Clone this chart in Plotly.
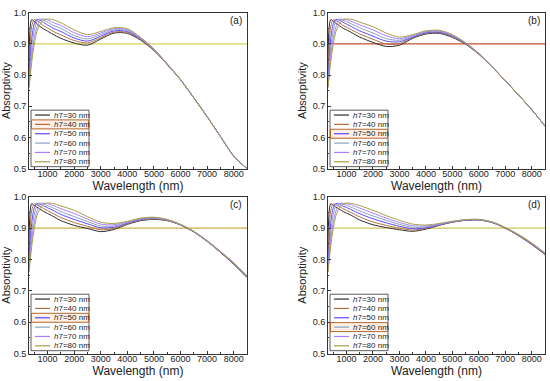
import plotly.graph_objects as go

WAVELENGTH = [300, 400, 500, 600, 700, 800, 900, 1000, 1200, 1500, 2000, 2500,
              3000, 3500, 4000, 4500, 5000, 5500, 6000, 6500, 7000, 7500, 8000, 8500]

LABELS = ["<i>h</i>7=30 nm", "<i>h</i>7=40 nm", "<i>h</i>7=50 nm",
          "<i>h</i>7=60 nm", "<i>h</i>7=70 nm", "<i>h</i>7=80 nm"]
COLORS = ["#2b2b2b", "#b2703f", "#5b48ff", "#87a0c8", "#b07cff", "#a3a044"]

A30 = [0.79, 0.978, 0.972, 0.964, 0.957, 0.951, 0.946, 0.941, 0.931, 0.918, 0.903, 0.896, 0.916, 0.935, 0.934, 0.912, 0.879, 0.834, 0.785, 0.727, 0.667, 0.603, 0.540, 0.500]
A40 = [0.775, 0.955, 0.978, 0.975, 0.969, 0.962, 0.956, 0.951, 0.941, 0.929, 0.911, 0.903, 0.920, 0.938, 0.937, 0.914, 0.880, 0.834, 0.785, 0.727, 0.667, 0.603, 0.540, 0.500]
A50 = [0.77, 0.915, 0.965, 0.979, 0.977, 0.972, 0.966, 0.961, 0.951, 0.940, 0.919, 0.909, 0.925, 0.942, 0.940, 0.916, 0.881, 0.835, 0.785, 0.727, 0.667, 0.603, 0.540, 0.500]
A60 = [0.765, 0.885, 0.945, 0.972, 0.980, 0.978, 0.974, 0.970, 0.960, 0.950, 0.927, 0.916, 0.930, 0.945, 0.943, 0.917, 0.882, 0.835, 0.785, 0.727, 0.667, 0.603, 0.540, 0.500]
A70 = [0.76, 0.86, 0.92, 0.955, 0.973, 0.980, 0.979, 0.977, 0.969, 0.959, 0.936, 0.923, 0.935, 0.949, 0.946, 0.919, 0.883, 0.836, 0.786, 0.727, 0.667, 0.603, 0.540, 0.500]
A80 = [0.76, 0.84, 0.90, 0.94, 0.96, 0.973, 0.979, 0.980, 0.978, 0.968, 0.945, 0.930, 0.940, 0.952, 0.949, 0.921, 0.884, 0.836, 0.786, 0.727, 0.667, 0.603, 0.540, 0.500]

B30 = [0.79, 0.978, 0.973, 0.966, 0.960, 0.954, 0.949, 0.945, 0.936, 0.922, 0.905, 0.892, 0.896, 0.918, 0.932, 0.934, 0.921, 0.899, 0.867, 0.826, 0.782, 0.736, 0.689, 0.636]
B40 = [0.775, 0.955, 0.978, 0.975, 0.970, 0.964, 0.958, 0.954, 0.945, 0.932, 0.915, 0.900, 0.901, 0.920, 0.934, 0.936, 0.923, 0.900, 0.868, 0.826, 0.782, 0.736, 0.689, 0.636]
B50 = [0.77, 0.915, 0.965, 0.979, 0.977, 0.973, 0.968, 0.964, 0.955, 0.942, 0.925, 0.909, 0.907, 0.922, 0.936, 0.938, 0.925, 0.901, 0.868, 0.827, 0.782, 0.736, 0.689, 0.636]
B60 = [0.765, 0.885, 0.945, 0.972, 0.980, 0.978, 0.975, 0.972, 0.964, 0.952, 0.935, 0.917, 0.912, 0.925, 0.938, 0.940, 0.927, 0.902, 0.869, 0.827, 0.782, 0.736, 0.689, 0.636]
B70 = [0.76, 0.86, 0.92, 0.955, 0.973, 0.980, 0.979, 0.978, 0.972, 0.961, 0.945, 0.926, 0.917, 0.927, 0.940, 0.942, 0.928, 0.903, 0.869, 0.827, 0.782, 0.736, 0.689, 0.636]
B80 = [0.76, 0.84, 0.90, 0.94, 0.96, 0.973, 0.979, 0.980, 0.979, 0.970, 0.955, 0.935, 0.922, 0.930, 0.942, 0.944, 0.930, 0.904, 0.870, 0.828, 0.782, 0.736, 0.689, 0.636]

C30 = [0.79, 0.978, 0.973, 0.967, 0.961, 0.956, 0.951, 0.947, 0.938, 0.924, 0.909, 0.899, 0.889, 0.896, 0.912, 0.924, 0.928, 0.924, 0.910, 0.888, 0.858, 0.823, 0.785, 0.743]
C40 = [0.775, 0.955, 0.978, 0.975, 0.970, 0.965, 0.960, 0.956, 0.947, 0.934, 0.918, 0.906, 0.895, 0.899, 0.914, 0.926, 0.929, 0.925, 0.910, 0.888, 0.858, 0.824, 0.786, 0.744]
C50 = [0.77, 0.915, 0.965, 0.979, 0.977, 0.973, 0.969, 0.965, 0.957, 0.944, 0.928, 0.914, 0.901, 0.903, 0.916, 0.928, 0.931, 0.926, 0.911, 0.889, 0.859, 0.824, 0.787, 0.745]
C60 = [0.765, 0.885, 0.945, 0.972, 0.980, 0.978, 0.975, 0.972, 0.965, 0.953, 0.937, 0.921, 0.907, 0.907, 0.918, 0.929, 0.932, 0.926, 0.911, 0.889, 0.859, 0.825, 0.788, 0.746]
C70 = [0.76, 0.86, 0.92, 0.955, 0.973, 0.980, 0.979, 0.978, 0.973, 0.962, 0.947, 0.929, 0.913, 0.911, 0.920, 0.931, 0.934, 0.927, 0.912, 0.890, 0.860, 0.825, 0.789, 0.747]
C80 = [0.76, 0.84, 0.90, 0.94, 0.96, 0.973, 0.979, 0.980, 0.979, 0.971, 0.957, 0.937, 0.919, 0.915, 0.922, 0.932, 0.935, 0.928, 0.912, 0.890, 0.860, 0.826, 0.790, 0.748]

D30 = [0.79, 0.978, 0.973, 0.967, 0.962, 0.957, 0.952, 0.948, 0.940, 0.926, 0.911, 0.902, 0.895, 0.890, 0.897, 0.909, 0.919, 0.925, 0.926, 0.918, 0.900, 0.876, 0.848, 0.816]
D40 = [0.775, 0.955, 0.978, 0.975, 0.971, 0.966, 0.961, 0.957, 0.949, 0.936, 0.920, 0.909, 0.900, 0.894, 0.899, 0.910, 0.920, 0.926, 0.927, 0.918, 0.900, 0.877, 0.849, 0.817]
D50 = [0.77, 0.915, 0.965, 0.979, 0.977, 0.973, 0.969, 0.966, 0.958, 0.946, 0.930, 0.917, 0.906, 0.898, 0.901, 0.911, 0.920, 0.926, 0.927, 0.919, 0.901, 0.878, 0.850, 0.818]
D60 = [0.765, 0.885, 0.945, 0.972, 0.980, 0.978, 0.975, 0.973, 0.966, 0.955, 0.939, 0.925, 0.912, 0.903, 0.904, 0.912, 0.921, 0.927, 0.927, 0.919, 0.901, 0.878, 0.851, 0.819]
D70 = [0.76, 0.86, 0.92, 0.955, 0.973, 0.980, 0.979, 0.978, 0.974, 0.964, 0.948, 0.932, 0.918, 0.908, 0.907, 0.913, 0.921, 0.927, 0.928, 0.920, 0.902, 0.879, 0.852, 0.820]
D80 = [0.76, 0.84, 0.90, 0.94, 0.96, 0.973, 0.979, 0.980, 0.979, 0.972, 0.957, 0.940, 0.925, 0.913, 0.910, 0.915, 0.922, 0.927, 0.928, 0.920, 0.902, 0.880, 0.853, 0.821]

PANEL_NAMES = ["(a)", "(b)", "(c)", "(d)"]
PANEL_SERIES = [[A30, A40, A50, A60, A70, A80],
                [B30, B40, B50, B60, B70, B80],
                [C30, C40, C50, C60, C70, C80],
                [D30, D40, D50, D60, D70, D80]]
HIGHLIGHT = [1, 2, 2, 3]
REF_LEVEL = 0.9
REF_COLORS = ["#d4d35a", "#c0502a", "#c9b04a", "#d2c65a"]

W, H = 550, 381
X_DOMAINS = [(29, 247), (328, 545), (29, 247), (328, 545)]
Y_DOMAINS = [(8, 168), (8, 168), (197, 358), (197, 358)]

FONT = "Liberation Sans, Arial, sans-serif"

fig = go.Figure()
layout = dict(width=W, height=H, margin=dict(l=0, r=0, t=0, b=0),
              paper_bgcolor="white", plot_bgcolor="white", showlegend=False,
              font=dict(family=FONT, color="#222"))
shapes = []
annotations = []

for p in range(4):
    xa = "x" if p == 0 else f"x{p+1}"
    ya = "y" if p == 0 else f"y{p+1}"
    xkey = "xaxis" if p == 0 else f"xaxis{p+1}"
    ykey = "yaxis" if p == 0 else f"yaxis{p+1}"
    x0, x1 = X_DOMAINS[p]
    y0, y1 = Y_DOMAINS[p]
    layout[xkey] = dict(domain=[x0 / W, x1 / W], anchor=ya, range=[300, 8500],
                        tickvals=[1000, 2000, 3000, 4000, 5000, 6000, 7000, 8000],
                        ticks="inside", ticklen=3, tickwidth=0.8, tickcolor="#333",
                        minor=dict(ticks="inside", ticklen=1.5, dtick=500, tickcolor="#333"),
                        showline=True, linecolor="#333", linewidth=0.8, mirror=True,
                        showgrid=False, zeroline=False, ticklabelstandoff=-3,
                        tickfont=dict(size=9, family=FONT, color="#222"),
                        title=dict(text="Wavelength (nm)", standoff=0,
                                   font=dict(size=12, family=FONT, color="#222")))
    layout[ykey] = dict(domain=[1 - y1 / H, 1 - y0 / H], anchor=xa, range=[0.5, 1.0],
                        tickvals=[0.5, 0.6, 0.7, 0.8, 0.9, 1.0], tickformat=".1f",
                        ticks="inside", ticklen=3, tickwidth=0.8, tickcolor="#333",
                        minor=dict(ticks="inside", ticklen=1.5, dtick=0.05, tickcolor="#333"),
                        showline=True, linecolor="#333", linewidth=0.8, mirror=True,
                        showgrid=False, zeroline=False,
                        tickfont=dict(size=9, family=FONT, color="#222"),
                        title=dict(text="Absorptivity", standoff=3,
                                   font=dict(size=11, family=FONT, color="#222")))

    # reference line at 0.9
    shapes.append(dict(type="line", xref=f"{xa} domain", yref=ya, x0=0, x1=1,
                       y0=REF_LEVEL, y1=REF_LEVEL,
                       line=dict(color=REF_COLORS[p], width=1.2), layer="below"))

    for i, vals in enumerate(PANEL_SERIES[p]):
        fig.add_trace(go.Scatter(x=WAVELENGTH, y=vals, mode="lines", name=LABELS[i],
                                 xaxis=xa, yaxis=ya,
                                 line=dict(color=COLORS[i], width=1, shape="spline",
                                           smoothing=0.8)))

    # legend box (drawn manually)
    ph = y1 - y0
    pw = x1 - x0
    def dx(px):
        return (px - x0) / pw
    def dy(py):
        return (y1 - py) / ph
    bx0, bx1 = x0 + 2, x0 + 60
    by0, by1 = y0 + 100, y0 + 158
    shapes.append(dict(type="rect", xref=f"{xa} domain", yref=f"{ya} domain",
                       x0=dx(bx0), x1=dx(bx1), y0=dy(by1), y1=dy(by0),
                       line=dict(color="#333", width=0.8), fillcolor="white"))
    for i in range(6):
        cy = y0 + 105 + i * 9.6
        if i == HIGHLIGHT[p]:
            shapes.append(dict(type="rect", xref=f"{xa} domain", yref=f"{ya} domain",
                               x0=dx(bx0 + 0.5), x1=dx(bx1 - 0.5),
                               y0=dy(cy + 4.6), y1=dy(cy - 4.6),
                               line=dict(color="#b5652a", width=1),
                               fillcolor="rgba(255,210,180,0.35)"))
        shapes.append(dict(type="line", xref=f"{xa} domain", yref=f"{ya} domain",
                           x0=dx(x0 + 6), x1=dx(x0 + 21), y0=dy(cy), y1=dy(cy),
                           line=dict(color=COLORS[i], width=1.2)))
        annotations.append(dict(xref=f"{xa} domain", yref=f"{ya} domain",
                                x=dx(x0 + 22.5), y=dy(cy), text=LABELS[i],
                                showarrow=False, xanchor="left", yanchor="middle",
                                font=dict(size=8, family=FONT, color="#222")))
    annotations.append(dict(xref=f"{xa} domain", yref=f"{ya} domain",
                            x=0.985, y=1.0, text=PANEL_NAMES[p], showarrow=False,
                            xanchor="right", yanchor="top",
                            font=dict(size=10, family=FONT, color="#222")))

layout["shapes"] = shapes
layout["annotations"] = annotations
fig.update_layout(**layout)
fig.write_html("out.html", config={"displayModeBar": False},
               post_script="document.body.style.margin='0';document.body.style.padding='0';")
